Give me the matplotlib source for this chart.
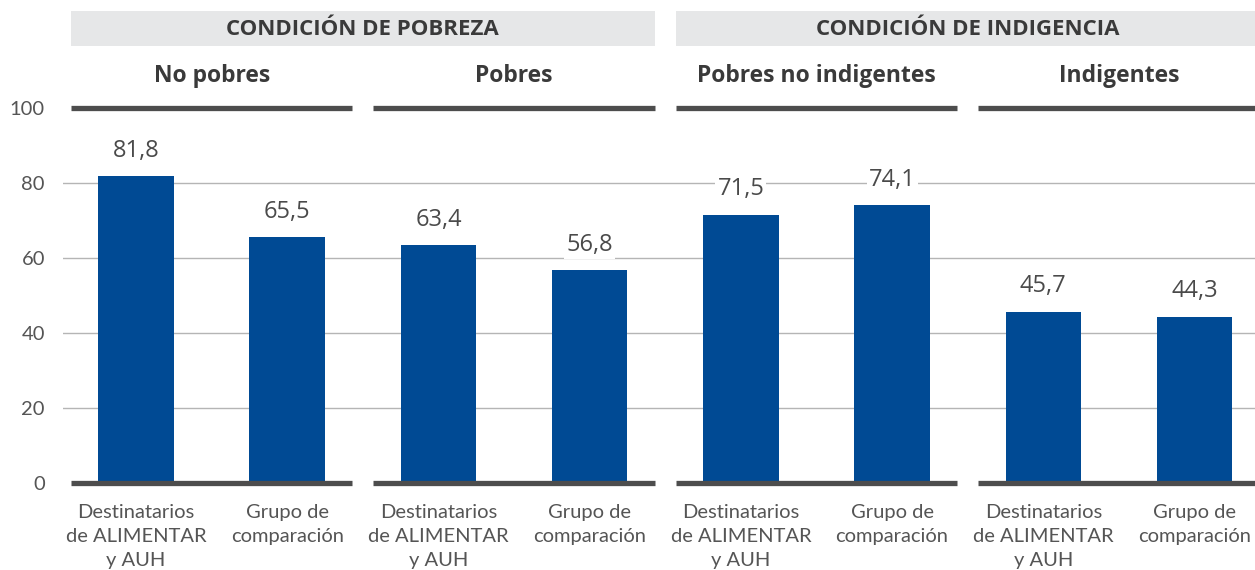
import matplotlib.pyplot as plt

# Datos
encabezados = ["CONDICIÓN DE POBREZA", "CONDICIÓN DE INDIGENCIA"]
grupos = ["No pobres", "Pobres", "Pobres no indigentes", "Indigentes"]
categorias = ["Destinatarios\nde ALIMENTAR\ny AUH", "Grupo de\ncomparación"]
valores = [81.8, 65.5, 63.4, 56.8, 71.5, 74.1, 45.7, 44.3]
yticks = [0, 20, 40, 60, 80, 100]

AZUL = "#004a94"
GRIS_TXT = "#555555"
GRIS_OSC = "#4d4d4d"
NEGRITA = ['Open Sans', 'DejaVu Sans']

plt.rcParams['font.family'] = ['Lato', 'DejaVu Sans']

fig = plt.figure(figsize=(12.55, 5.70), dpi=100)
ax = fig.add_axes([63 / 1255, 87 / 570, 1192 / 1255, 375 / 570])

x = list(range(len(valores)))
ax.bar(x, valores, width=0.5, color=AZUL, zorder=3)

# Etiquetas de valor (fondo blanco que corta la grilla, debajo de las barras)
for xi, v in zip(x, valores):
    ax.text(xi, v + 3.6, f"{v:.1f}".replace(".", ","), ha="center", va="bottom",
            fontsize=17, color="#4a4a4a", family=NEGRITA,
            bbox=dict(facecolor="white", edgecolor="none", pad=1.5), zorder=2)

# Lineas de grilla
for t in yticks[1:-1]:
    ax.axhline(t, color="#b5b5b5", lw=1, zorder=1)

# Lineas gruesas por grupo (arriba y abajo) y titulos
for g, nombre in enumerate(grupos):
    x0, x1 = 2 * g - 0.43, 2 * g + 1.43
    for yy in (0, 100):
        ax.plot([x0, x1], [yy, yy], color=GRIS_OSC, lw=3.8, solid_capstyle="butt",
                clip_on=False, zorder=5)
    ax.text(2 * g + 0.5, 108.6, nombre, ha="center", va="center", fontsize=16.5,
            fontweight="bold", color="#3a3a3a", family=NEGRITA, clip_on=False)

# Encabezados con fondo gris
for h, texto in enumerate(encabezados):
    x0 = 4 * h - 0.43
    ax.add_patch(plt.Rectangle((x0, 116.5), 3.86, 9.3, facecolor="#e6e7e8",
                               edgecolor="none", clip_on=False, zorder=1))
    ax.text(4 * h + 1.5, 120.9, texto, ha="center", va="center", fontsize=16,
            fontweight="bold", color="#3a3a3a", family=NEGRITA, clip_on=False, zorder=2)

# Etiquetas de categoria
for xi in x:
    ax.text(xi, -5.5, categorias[xi % 2], ha="center", va="top", fontsize=14.5,
            color=GRIS_TXT, linespacing=1.5, clip_on=False)

ax.set_xlim(-0.483, 7.40)
ax.set_ylim(0, 100)
ax.set_yticks(yticks)
ax.set_yticklabels([str(t) for t in yticks], fontsize=14.5, color=GRIS_TXT)
ax.tick_params(axis="y", length=0, pad=13)
ax.set_xticks([])
for s in ax.spines.values():
    s.set_visible(False)

fig.savefig("out.png", dpi=100)
